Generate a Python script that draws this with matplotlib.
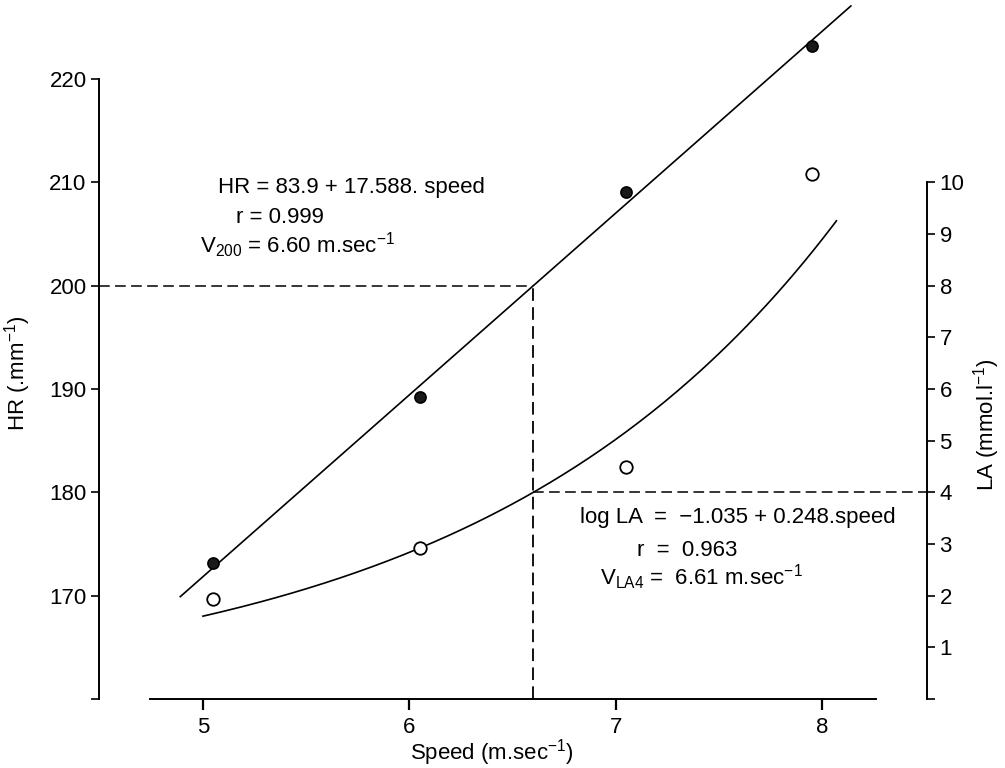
import numpy as np
import matplotlib
matplotlib.use("Agg")
import matplotlib.pyplot as plt

plt.rcParams['font.family'] = ['Liberation Sans', 'DejaVu Sans']
plt.rcParams['mathtext.default'] = 'regular'

# ---- data ----
speed = [5.05, 6.05, 7.05, 7.95]
hr_values = [173.2, 189.2, 209.1, 223.2]
la_values = [1.94, 2.92, 4.5, 10.16]

# regression equations stated on the chart
hr_intercept, hr_slope = 83.9, 17.588
la_log_intercept, la_log_slope = -1.035, 0.248
hr_line_range = [4.89, 8.14]
la_curve_range = [5.0, 8.07]

v200 = 6.60
hr_ref = 200
la_ref = 4

hr_ticks = [160, 170, 180, 190, 200, 210, 220]
hr_ticklabels = ['', '170', '180', '190', '200', '210', '220']
la_ticks = [0, 1, 2, 3, 4, 5, 6, 7, 8, 9, 10]
la_ticklabels = [''] + [str(t) for t in la_ticks[1:]]
x_ticks = [5, 6, 7, 8]

W, H = 1005, 768
fig = plt.figure(figsize=(W / 100, H / 100), dpi=100)

def fx(px):
    return px / W

def fy(py):
    return 1 - py / H

ax = fig.add_axes([fx(99), fy(699), fx(927) - fx(99), fy(79) - fy(699)])
ax.set_xlim(4.496, 8.509)
ax.set_ylim(160, 220)
ax2 = ax.twinx()
ax2.set_ylim(0, 12)

for a in (ax, ax2):
    a.patch.set_visible(False)
    for s in a.spines.values():
        s.set_visible(False)

ax.spines['left'].set_visible(True)
ax.spines['left'].set_bounds(160, 220)
ax.spines['bottom'].set_visible(True)
ax.spines['bottom'].set_bounds(4.743, 8.262)
ax2.spines['right'].set_visible(True)
ax2.spines['right'].set_bounds(0, 10)
for s in (ax.spines['left'], ax.spines['bottom'], ax2.spines['right']):
    s.set_linewidth(1.4)

fs = 16
ax.set_yticks(hr_ticks)
ax.set_yticklabels(hr_ticklabels, fontsize=fs)
ax.set_xticks(x_ticks)
ax.set_xticklabels([str(t) for t in x_ticks], fontsize=fs)
ax2.set_yticks(la_ticks)
ax2.set_yticklabels(la_ticklabels, fontsize=fs)
ax.tick_params(axis='y', direction='out', length=6, width=1.2, pad=3)
ax.tick_params(axis='x', direction='out', length=8, width=1.6, pad=5)
ax2.tick_params(axis='y', direction='out', length=6, width=1.2, pad=3)

# regression line HR
xs = np.linspace(hr_line_range[0], hr_line_range[1], 50)
ax.plot(xs, hr_intercept + hr_slope * xs, color='black', lw=1.2, clip_on=False)
# LA curve
xc = np.linspace(la_curve_range[0], la_curve_range[1], 200)
ax2.plot(xc, 10 ** (la_log_intercept + la_log_slope * xc), color='black', lw=1.2, clip_on=False)

# points
ax.plot(speed, hr_values, 'o', ms=8, mfc='#1a1a1a', mec='black', mew=1.2, clip_on=False, zorder=5)
ax2.plot(speed, la_values, 'o', ms=9, mfc='white', mec='black', mew=1.3, clip_on=False, zorder=5)

# reference dashed lines
dash = (0, (7, 3.5))
ax.plot([4.496, v200], [hr_ref, hr_ref], color='black', lw=1.1, linestyle=dash)
ax.plot([v200, v200], [160, hr_ref], color='black', lw=1.3, linestyle=dash)
ax2.plot([v200, 8.509], [la_ref, la_ref], color='black', lw=1.1, linestyle=dash)

# annotations
tk = dict(fontsize=fs, ha='left', va='baseline')
fig.text(fx(218), fy(193), 'HR = 83.9 + 17.588. speed', **tk)
fig.text(fx(236), fy(223), 'r = 0.999', **tk)
fig.text(fx(200), fy(253), 'V$_{200}$ = 6.60 m.sec$^{-1}$', **tk)
fig.text(fx(580), fy(523), 'log LA  =  \u22121.035 + 0.248.speed', **tk)
fig.text(fx(637), fy(556), 'r  =  0.963', **tk)
fig.text(fx(600), fy(585), 'V$_{LA4}$ =  6.61 m.sec$^{-1}$', **tk)

# axis labels
fig.text(fx(492), fy(760), 'Speed (m.sec$^{-1}$)', fontsize=fs, ha='center', va='baseline')
fig.text(fx(18), fy(373), 'HR (.mm$^{-1}$)', fontsize=fs, ha='center', va='center', rotation=90)
fig.text(fx(987), fy(425), 'LA (mmol.l$^{-1}$)', fontsize=fs, ha='center', va='center', rotation=90)

fig.savefig('out.png', dpi=100)
